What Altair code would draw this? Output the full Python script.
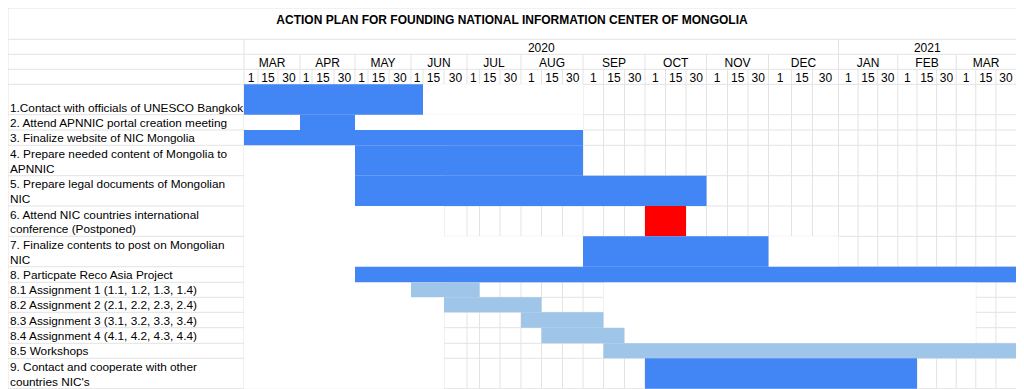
import altair as alt
import pandas as pd

# ---------------- data ----------------
TITLE = "ACTION PLAN FOR FOUNDING NATIONAL INFORMATION CENTER OF MONGOLIA"
YEARS = ["2020", "2021"]
YEAR_MONTHS = [10, 3]
MONTHS = ["MAR", "APR", "MAY", "JUN", "JUL", "AUG", "SEP", "OCT", "NOV", "DEC", "JAN", "FEB", "MAR"]
DAYS = ["1", "15", "30"]

TASKS = [
    "1.Contact with officials of UNESCO Bangkok",
    "2. Attend APNNIC portal creation meeting",
    "3. Finalize website of NIC Mongolia",
    "4. Prepare needed content of Mongolia to\nAPNNIC",
    "5. Prepare legal documents of Mongolian\nNIC",
    "6. Attend NIC countries international\nconference (Postponed)",
    "7. Finalize contents to post on Mongolian\nNIC",
    "8. Particpate Reco Asia Project",
    "8.1 Assignment 1 (1.1, 1.2, 1.3, 1.4)",
    "8.2 Assignment 2 (2.1, 2.2, 2.3, 2.4)",
    "8.3 Assignment 3 (3.1, 3.2, 3.3, 3.4)",
    "8.4 Assignment 4 (4.1, 4.2, 4.3, 4.4)",
    "8.5 Workshops",
    "9. Contact and cooperate with other\ncountries NIC's",
]
# first and last+1 half-month column (0 = 1 MAR 2020, 3 columns per month)
START_COL = [0, 3, 0, 6, 6, 21, 18, 6, 9, 11, 15, 16, 19, 21]
END_COL = [10, 6, 18, 18, 24, 23, 27, 39, 13, 16, 19, 20, 39, 34]
KIND = ["main", "main", "main", "main", "main", "postponed", "main", "main",
        "sub", "sub", "sub", "sub", "sub", "main"]

# blank (white-filled) sheet cells that hide the grid: col from/to, row from/to
BLANK_C0 = [10, 0, 6, 0, 0, 27, 19]
BLANK_C1 = [18, 3, 18, 11, 18, 30, 37]
BLANK_R0 = [4, 5, 5, 7, 10, 10, 12]
BLANK_R1 = [5, 6, 6, 18, 11, 11, 16]

# ---------------- sheet geometry (layout) ----------------
W, H = 1008, 381
COL_EDGES = [0, 236, 250, 270, 292, 304, 326, 347, 360, 381, 403, 415, 436, 459,
             471.5, 492, 513, 533.5, 554.5, 575, 595.5, 616.5, 637, 657.5, 678,
             698.5, 719.5, 740, 760.5, 783.5, 804.5, 830.5, 850.1, 869.7, 889.8,
             909, 928.6, 948.2, 967.8, 987.9, 1008]
ROW_EDGES = [0, 31.3, 46.3, 61.3, 76.3, 106.7, 122, 137.3, 167.7, 198, 228.3,
             258.7, 274.3, 289.3, 304.3, 319.7, 335.3, 350.3, 380.7]
N_COLS = 3 * len(MONTHS)
N_ROWS = len(ROW_EDGES) - 1
FIRST_TASK_ROW = 4
LINE_H = 14.6
GRID = "#e3e3e3"
FONT = "Liberation Sans"

xcol = alt.Scale(domain=list(range(-1, N_COLS + 1)), range=COL_EDGES, zero=False, nice=False)
month_edges = [COL_EDGES[1 + 3 * m] for m in range(len(MONTHS) + 1)]
xmon = alt.Scale(domain=list(range(len(MONTHS) + 1)), range=month_edges, zero=False, nice=False)
year_edges = [COL_EDGES[1]]
acc = 0
for n in YEAR_MONTHS:
    acc += n
    year_edges.append(COL_EDGES[1 + 3 * acc])
xyear = alt.Scale(domain=list(range(len(YEARS) + 1)), range=year_edges, zero=False, nice=False)
ys = alt.Scale(domain=list(range(N_ROWS + 1)), range=ROW_EDGES, zero=False, nice=False)

# ---------------- tables ----------------
hl = pd.DataFrame({"r": list(range(N_ROWS + 1))})

year_bounds = set()
acc = 0
for n in [0] + YEAR_MONTHS:
    acc += n
    year_bounds.add(3 * acc)
vrows = [{"b": -1, "top": 0, "bot": N_ROWS}]
for b in range(0, N_COLS):
    if b in year_bounds:
        top = 1
    elif b % 3 == 0:
        top = 2
    else:
        top = 3
    vrows.append({"b": b, "top": top, "bot": N_ROWS})
vl = pd.DataFrame(vrows)

blank = pd.DataFrame({"c0": BLANK_C0, "c1": BLANK_C1, "r0": BLANK_R0, "r1": BLANK_R1})

tasks = pd.DataFrame({
    "task": TASKS,
    "start": START_COL,
    "end": END_COL,
    "kind": KIND,
    "row": [FIRST_TASK_ROW + i for i in range(len(TASKS))],
})
tasks["rowend"] = tasks["row"] + 1
tasks["nlines"] = [t.count("\n") + 1 for t in TASKS]

days = pd.DataFrame({"c": [c + 0.5 for c in range(N_COLS)],
                     "lab": [DAYS[c % 3] for c in range(N_COLS)],
                     "r": 3.5})
months = pd.DataFrame({"m": [m + 0.5 for m in range(len(MONTHS))], "lab": MONTHS, "r": 2.5})
years = pd.DataFrame({"yv": [i + 0.5 for i in range(len(YEARS))], "lab": YEARS, "r": 1.5})
title = pd.DataFrame({"t": [TITLE]})

# ---------------- layers ----------------
hlines = alt.Chart(hl).mark_rule(color=GRID, strokeWidth=1).encode(
    y=alt.Y("r:Q", scale=ys, axis=None))

vlines = alt.Chart(vl).mark_rule(color=GRID, strokeWidth=1).encode(
    x=alt.X("b:Q", scale=xcol, axis=None),
    y=alt.Y("top:Q", scale=ys, axis=None),
    y2="bot:Q")

blanks = alt.Chart(blank).mark_rect(color="white").encode(
    x=alt.X("c0:Q", scale=xcol, axis=None), x2="c1:Q",
    y=alt.Y("r0:Q", scale=ys, axis=None), y2="r1:Q")


def label_layer(n):
    return alt.Chart(tasks).transform_filter(
        alt.datum.nlines == n
    ).mark_text(
        align="left", baseline="bottom", dy=-1 - (n - 1) * LINE_H, fontSize=11.8,
        font=FONT, color="#000000", lineBreak="\n", lineHeight=LINE_H).encode(
        x=alt.value(2),
        y=alt.Y("rowend:Q", scale=ys, axis=None),
        text="task:N")


labels1 = label_layer(1)
labels2 = label_layer(2)

bars = alt.Chart(tasks).mark_rect().encode(
    x=alt.X("start:Q", scale=xcol, axis=None), x2="end:Q",
    y=alt.Y("row:Q", scale=ys, axis=None), y2="rowend:Q",
    color=alt.Color("kind:N", legend=None,
                    scale=alt.Scale(domain=["main", "postponed", "sub"],
                                    range=["#4285F4", "#FF0000", "#9FC5E8"])))

day_txt = alt.Chart(days).mark_text(fontSize=12, font=FONT, color="#000000",
                                    baseline="middle", dy=1).encode(
    x=alt.X("c:Q", scale=xcol, axis=None),
    y=alt.Y("r:Q", scale=ys, axis=None),
    text="lab:N")

month_txt = alt.Chart(months).mark_text(fontSize=12, font=FONT, color="#000000",
                                        baseline="middle", dy=1).encode(
    x=alt.X("m:Q", scale=xmon, axis=None),
    y=alt.Y("r:Q", scale=ys, axis=None),
    text="lab:N")

year_txt = alt.Chart(years).mark_text(fontSize=12, font=FONT, color="#000000",
                                      baseline="middle", dy=1).encode(
    x=alt.X("yv:Q", scale=xyear, axis=None),
    y=alt.Y("r:Q", scale=ys, axis=None),
    text="lab:N")

title_txt = alt.Chart(title).mark_text(fontSize=12, font=FONT, fontWeight="bold",
                                       color="#000000", baseline="middle").encode(
    x=alt.value(504), y=alt.value(12), text="t:N")

chart = alt.layer(
    hlines, vlines, blanks, labels1, labels2, bars, day_txt, month_txt, year_txt, title_txt
).resolve_scale(x="independent").properties(
    width=W, height=H, padding=0, autosize=alt.AutoSizeParams(type="none"),
    background="white"
).configure_view(stroke=None)

chart.save("out.html", embed_options={"renderer": "svg", "actions": False})
